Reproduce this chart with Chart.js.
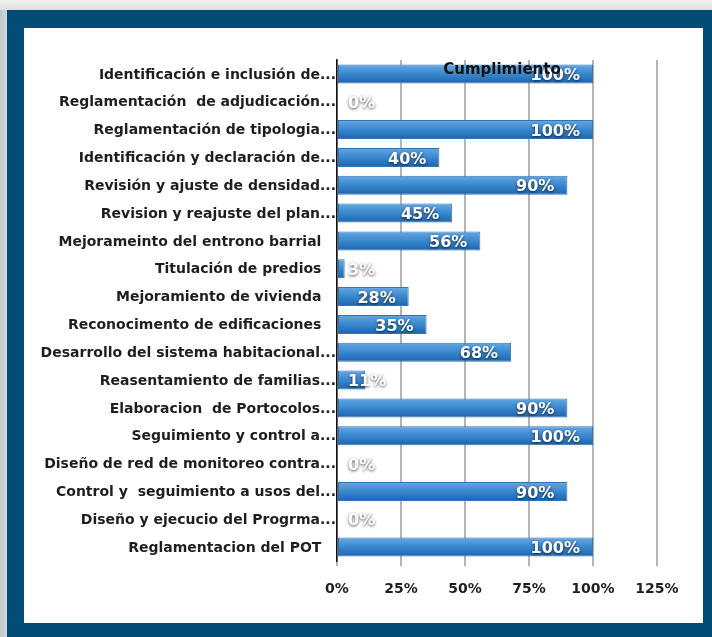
<!DOCTYPE html>
<html>
<head>
<meta charset="utf-8">
<script src="https://cdn.jsdelivr.net/npm/chart.js@4/dist/chart.umd.min.js"></script>
<style>
  html, body { margin: 0; padding: 0; }
  body { width: 712px; height: 637px; position: relative; overflow: hidden;
         background: linear-gradient(90deg, #c3c7cf 0, #d4d7dd 7px, #eeeeee 7px); }
  #topstrip { position: absolute; left: 0; top: 0; width: 712px; height: 10px;
              background: linear-gradient(#f4f4f4, #dedede); }
  #frame { position: absolute; left: 7px; top: 10px; width: 705px; height: 627px; background: #024d76; }
  #panel { position: absolute; left: 24px; top: 28px; width: 679px; height: 595px; background: #fff; }
  canvas { display: block; }
</style>
</head>
<body>
<div id="topstrip"></div>
<div id="frame"></div>
<div id="panel"><canvas id="chart" width="679" height="595"></canvas></div>
<script>
// categories, top to bottom (trailing spaces kept as in the source sheet)
const categories = [
  'Identificación e inclusión de...',
  'Reglamentación  de adjudicación...',
  'Reglamentación de tipologia...',
  'Identificación y declaración de...',
  'Revisión y ajuste de densidad...',
  'Revision y reajuste del plan...',
  'Mejorameinto del entrono barrial   ',
  'Titulación de predios   ',
  'Mejoramiento de vivienda   ',
  'Reconocimento de edificaciones   ',
  'Desarrollo del sistema habitacional...',
  'Reasentamiento de familias...',
  'Elaboracion  de Portocolos...',
  'Seguimiento y control a...',
  'Diseño de red de monitoreo contra...',
  'Control y  seguimiento a usos del...',
  'Diseño y ejecucio del Progrma...',
  'Reglamentacion del POT   ',
]
const cumplimiento = [100, 0, 100, 40, 90, 45, 56, 3, 28, 35, 68, 11, 90, 100, 0, 90, 0, 100]
const xTicks = [0, 25, 50, 75, 100, 125]
const chartTitle = 'Cumplimiento'

const FONT = '"DejaVu Sans", "Liberation Sans", sans-serif'
const TEXT_COLOR = '#1e1e1e'

// bar fill: vertical gradient per bar, light on top
function barFill(c) {
  const chart = c.chart
  const y = chart.scales.y
  const mid = y && c.dataIndex !== undefined ? y.getPixelForValue(c.dataIndex) : NaN
  if (!isFinite(mid)) return '#3b86cc'
  const g = chart.ctx.createLinearGradient(0, mid - 10, 0, mid + 10)
  g.addColorStop(0, '#6aaae2')
  g.addColorStop(0.45, '#3d8bd2')
  g.addColorStop(1, '#1b62ab')
  return g
}

const valueLabels = {
  id: 'valueLabels',
  afterDatasetsDraw(chart) {
    const ctx = chart.ctx
    const x0 = chart.scales.x.getPixelForValue(0)
    const meta = chart.getDatasetMeta(0)
    ctx.save()
    ctx.font = 'bold 16px ' + FONT
    ctx.textBaseline = 'middle'
    ctx.textAlign = 'left'
    ctx.fillStyle = '#ffffff'
    ctx.shadowColor = 'rgba(0,0,0,0.7)'
    ctx.shadowBlur = 3
    ctx.shadowOffsetX = 0
    ctx.shadowOffsetY = 1
    meta.data.forEach((bar, i) => {
      const txt = cumplimiento[i] + '%'
      const w = ctx.measureText(txt).width
      const left = Math.max(x0 + 11, bar.x - 13 - w)
      ctx.fillText(txt, left, bar.y + 2)
    })
    ctx.restore()
  },
}

const overlayTitle = {
  id: 'overlayTitle',
  afterDraw(chart) {
    const ctx = chart.ctx
    const a = chart.chartArea
    ctx.save()
    ctx.font = 'bold 15px ' + FONT
    ctx.fillStyle = '#111'
    ctx.textAlign = 'center'
    ctx.textBaseline = 'middle'
    ctx.fillText(chartTitle, (a.left + a.right) / 2 + 5, a.top + 10)
    ctx.restore()
  },
}

new Chart(document.getElementById('chart').getContext('2d'), {
  type: 'bar',
  data: {
    labels: categories,
    datasets: [{
      label: chartTitle,
      data: cumplimiento,
      backgroundColor: barFill,
      borderColor: '#2f74b8',
      borderWidth: 1,
      borderSkipped: false,
      barPercentage: 0.68,
      categoryPercentage: 1,
    }],
  },
  options: {
    indexAxis: 'y',
    responsive: false,
    animation: false,
    devicePixelRatio: 1,
    layout: { padding: { top: 32, right: 46, bottom: 0, left: 0 } },
    plugins: {
      legend: { display: false },
      tooltip: { enabled: false },
      title: { display: false },
    },
    scales: {
      x: {
        min: 0,
        max: 125,
        afterBuildTicks: s => { s.ticks = xTicks.map(v => ({ value: v })) },
        afterFit: s => { s.height = 62 },
        grid: { color: '#b4b4b4', lineWidth: 2, tickLength: 5, drawOnChartArea: true },
        border: { display: false },
        ticks: {
          color: TEXT_COLOR,
          padding: 15,
          font: { family: FONT, size: 14, weight: 'bold' },
          callback: v => v + '%',
        },
      },
      y: {
        afterFit: s => { s.width = 313 },
        grid: { display: false, drawTicks: false, tickLength: 0 },
        border: { display: true, color: '#111', width: 1.5 },
        ticks: {
          color: TEXT_COLOR,
          padding: 1,
          labelOffset: 1,
          autoSkip: false,
          font: { family: FONT, size: 14, weight: 'bold' },
        },
      },
    },
  },
  plugins: [valueLabels, overlayTitle],
})
</script>
</body>
</html>
